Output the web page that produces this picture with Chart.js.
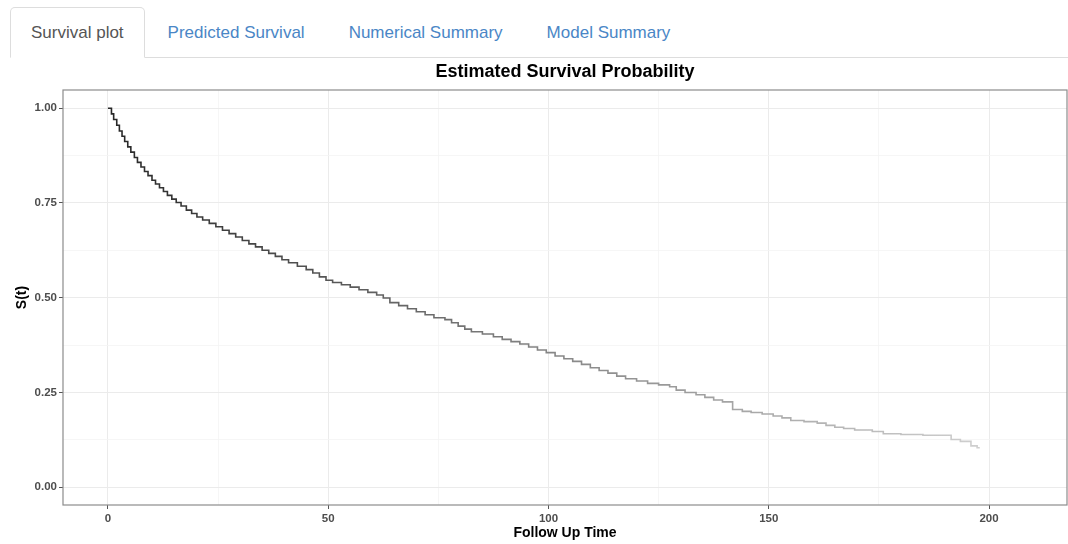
<!DOCTYPE html>
<html>
<head>
<meta charset="utf-8">
<script src="https://cdn.jsdelivr.net/npm/chart.js@4.4.1/dist/chart.umd.min.js"></script>
<style>
  html, body { margin: 0; padding: 0; background: #fff; width: 1068px; height: 544px; overflow: hidden; }
  body { font-family: "Liberation Sans", Arial, sans-serif; position: relative; }
  .nav-tabs {
    position: absolute; top: 7px; left: 10px; right: 0; height: 50px;
    margin: 0; padding: 0; list-style: none; display: flex;
    border-bottom: 1px solid #ddd;
  }
  .nav-tabs li { margin-bottom: -1px; }
  .nav-tabs a {
    display: block; padding: 0 20px; margin-right: 2px; line-height: 49px;
    font-size: 17px; color: #4a86c6; text-decoration: none;
    border: 1px solid transparent; border-radius: 5px 5px 0 0;
  }
  .nav-tabs li.active a {
    color: #555; background: #fff;
    border-color: #ddd #ddd transparent #ddd;
  }
  #survPlot { position: absolute; left: 0; top: 57px; }
</style>
</head>
<body>
<ul class="nav-tabs">
  <li class="active"><a href="#">Survival plot</a></li>
  <li><a href="#">Predicted Survival</a></li>
  <li><a href="#">Numerical Summary</a></li>
  <li><a href="#">Model Summary</a></li>
</ul>
<canvas id="survPlot" width="1068" height="487"></canvas>
<script>
// Kaplan-Meier estimate: time of each drop and survival after it
let times = [0, 0.8, 1.3, 2.0, 2.6, 3.2, 3.8, 4.5, 5.2, 6.0, 6.7, 7.5, 8.3, 9.1, 10.0, 10.8, 11.7, 12.6,
  13.5, 14.5, 15.5, 16.6, 17.8, 19.0, 20.2, 21.5, 23.0, 24.5, 26.0, 27.5, 29.0, 30.5, 32.0, 33.5, 35.0,
  36.5, 38.0, 39.5, 41.0, 43.0, 45.0, 46.5, 48.0, 49.5, 51.0, 53.0, 55.0, 57.0, 59.0, 61.0, 62.5, 64.0,
  66.0, 68.0, 70.0, 72.0, 74.0, 76.5, 78.0, 79.5, 81.0, 82.5, 85.0, 87.5, 89.5, 91.5, 93.5, 95.5, 97.5,
  99.5, 101.5, 103.5, 105.5, 107.5, 109.5, 111.5, 113.5, 115.5, 117.5, 120.0, 122.5, 125.0, 127.5, 129.0,
  131.0, 133.5, 135.5, 137.5, 139.5, 141.8, 144.0, 146.0, 148.5, 151.0, 153.0, 155.0, 158.0, 161.0, 163.0,
  165.0, 167.0, 169.5, 173.5, 176.0, 180.0, 185.0, 191.4, 193.5, 195.9, 197.3, 197.9];
let surv = [1.000, 0.985, 0.970, 0.955, 0.940, 0.926, 0.912, 0.898, 0.884, 0.870, 0.857, 0.845, 0.833, 0.822,
  0.810, 0.800, 0.790, 0.780, 0.770, 0.760, 0.751, 0.742, 0.731, 0.722, 0.713, 0.705, 0.696, 0.687, 0.678,
  0.669, 0.660, 0.651, 0.642, 0.634, 0.625, 0.617, 0.609, 0.600, 0.592, 0.583, 0.574, 0.565, 0.555, 0.546,
  0.540, 0.534, 0.528, 0.521, 0.514, 0.507, 0.499, 0.487, 0.479, 0.471, 0.463, 0.455, 0.447, 0.442, 0.434,
  0.425, 0.417, 0.410, 0.404, 0.397, 0.390, 0.384, 0.378, 0.370, 0.362, 0.355, 0.346, 0.339, 0.332, 0.324,
  0.315, 0.308, 0.301, 0.293, 0.286, 0.280, 0.274, 0.270, 0.265, 0.256, 0.250, 0.244, 0.237, 0.230, 0.225,
  0.205, 0.200, 0.197, 0.193, 0.188, 0.183, 0.176, 0.173, 0.169, 0.163, 0.158, 0.155, 0.151, 0.147, 0.141,
  0.139, 0.137, 0.126, 0.121, 0.109, 0.104, 0.104];

// axis breaks (major get labels, minor only grid lines)
let xBreaks = [0, 25, 50, 75, 100, 125, 150, 175, 200];
let xLabels = [0, 50, 100, 150, 200];
let yBreaks = [0, 0.125, 0.25, 0.375, 0.5, 0.625, 0.75, 0.875, 1];
let yLabels = [0, 0.25, 0.5, 0.75, 1];

const isMajor = (list, v) => list.some(m => Math.abs(m - v) < 1e-9);

// ggplot-like panel border
const panelBorder = {
  id: 'panelBorder',
  afterDatasetsDraw(chart) {
    const {ctx, chartArea: a} = chart;
    ctx.save();
    ctx.strokeStyle = '#8c8c8c';
    ctx.lineWidth = 1.2;
    ctx.strokeRect(a.left, a.top, a.right - a.left, a.bottom - a.top);
    ctx.restore();
  }
};

// line fades from dark to light grey with time
function lineColour(c) {
  const chart = c.chart;
  if (!chart.chartArea) return '#444';
  const x = chart.scales.x;
  const g = chart.ctx.createLinearGradient(x.getPixelForValue(0), 0, x.getPixelForValue(198), 0);
  g.addColorStop(0, '#262626');
  g.addColorStop(0.5, '#858585');
  g.addColorStop(1, '#cfcfcf');
  return g;
}

const tickFont = { family: 'Liberation Sans', size: 11.5, weight: 'bold' };
const titleFont = { family: 'Liberation Sans', size: 14, weight: 'bold' };

new Chart(document.getElementById('survPlot'), {
  type: 'line',
  data: {
    datasets: [{
      data: times.map((t, i) => ({ x: t, y: surv[i] })),
      stepped: true,
      borderColor: lineColour,
      borderWidth: 1.6,
      pointRadius: 0,
      fill: false
    }]
  },
  options: {
    responsive: false,
    animation: false,
    devicePixelRatio: 1,
    layout: { padding: { left: 0, right: 1, top: 0, bottom: 0 } },
    plugins: {
      legend: { display: false },
      tooltip: { enabled: false },
      title: {
        display: true,
        fullSize: false,
        text: 'Estimated Survival Probability',
        color: '#000',
        font: { family: 'Liberation Sans', size: 18, weight: 'bold' },
        padding: { top: 4, bottom: 7.4 }
      }
    },
    scales: {
      x: {
        type: 'linear',
        min: -10.2,
        max: 217.7,
        afterBuildTicks: s => { s.ticks = xBreaks.map(v => ({ value: v })); },
        afterFit: s => { s.height = 39; },
        ticks: {
          autoSkip: false,
          maxRotation: 0,
          padding: 3,
          color: '#4d4d4d',
          font: tickFont,
          callback: v => isMajor(xLabels, v) ? String(v) : ''
        },
        grid: {
          color: c => isMajor(xLabels, c.tick.value) ? '#ebebeb' : '#f4f4f4',
          lineWidth: c => isMajor(xLabels, c.tick.value) ? 1 : 0.8,
          tickColor: c => isMajor(xLabels, c.tick.value) ? '#555' : 'rgba(0,0,0,0)',
          tickLength: 4
        },
        border: { display: false },
        title: {
          display: true,
          text: 'Follow Up Time',
          color: '#000',
          font: titleFont,
          padding: { top: 0, bottom: 2.6 }
        }
      },
      y: {
        min: -0.047,
        max: 1.048,
        afterBuildTicks: s => { s.ticks = yBreaks.map(v => ({ value: v })); },
        afterFit: s => { s.width = 63; },
        ticks: {
          autoSkip: false,
          padding: 2,
          color: '#4d4d4d',
          font: tickFont,
          callback: v => isMajor(yLabels, v) ? v.toFixed(2) : ''
        },
        grid: {
          color: c => isMajor(yLabels, c.tick.value) ? '#ebebeb' : '#f4f4f4',
          lineWidth: c => isMajor(yLabels, c.tick.value) ? 1 : 0.8,
          tickColor: c => isMajor(yLabels, c.tick.value) ? '#555' : 'rgba(0,0,0,0)',
          tickLength: 4
        },
        border: { display: false },
        title: {
          display: true,
          text: 'S(t)',
          color: '#000',
          font: titleFont,
          padding: { top: 13.6, bottom: 0 }
        }
      }
    }
  },
  plugins: [panelBorder]
});
</script>
</body>
</html>
